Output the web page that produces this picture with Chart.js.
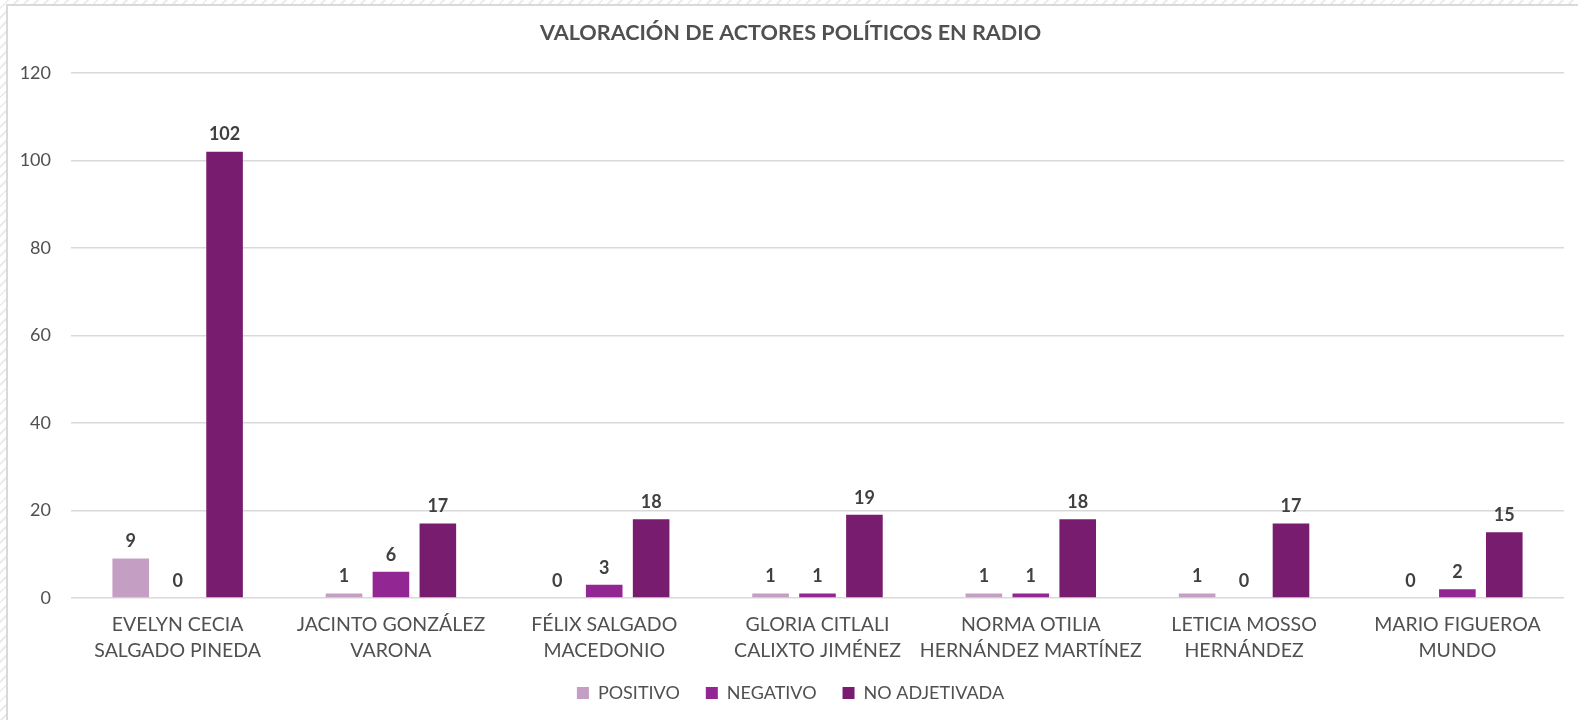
<!DOCTYPE html>
<html>
<head>
<meta charset="utf-8">
<script src="https://cdn.jsdelivr.net/npm/chart.js@4"></script>
<style>
  html, body { margin: 0; padding: 0; width: 1578px; height: 720px; overflow: hidden; }
  body { background: repeating-linear-gradient(135deg, #ffffff 0px, #ffffff 5px, #ececec 5px, #ececec 7px); position: relative; }
  #frame { position: absolute; left: 6px; top: 4px; right: 0; bottom: 0; background: #fff;
           border-left: 2px solid #d9d9d9; border-top: 2px solid #d9d9d9; }
  #c { position: absolute; left: 0; top: 0; }
</style>
</head>
<body>
<div id="frame"></div>
<canvas id="c" width="1578" height="720"></canvas>
<script>
const chartTitle = "VALORACIÓN DE ACTORES POLÍTICOS EN RADIO";
const categories = [
  ["EVELYN CECIA", "SALGADO PINEDA"],
  ["JACINTO GONZÁLEZ", "VARONA"],
  ["FÉLIX SALGADO", "MACEDONIO"],
  ["GLORIA CITLALI", "CALIXTO JIMÉNEZ"],
  ["NORMA OTILIA", "HERNÁNDEZ MARTÍNEZ"],
  ["LETICIA MOSSO", "HERNÁNDEZ"],
  ["MARIO FIGUEROA", "MUNDO"]
];
const seriesNames = ["POSITIVO", "NEGATIVO", "NO ADJETIVADA"];
const positivo = [9, 1, 0, 1, 1, 1, 0];
const negativo = [0, 6, 3, 1, 1, 0, 2];
const noAdjetivada = [102, 17, 18, 19, 18, 17, 15];
const seriesColors = ["#C49EC3", "#922692", "#781C70"];
const yTicks = [0, 20, 40, 60, 80, 100, 120];

const FONT = "Lato, 'Open Sans', sans-serif";
const TEXT = "#505050";

const valueLabels = {
  id: 'valueLabels',
  afterDatasetsDraw(chart) {
    const ctx = chart.ctx;
    ctx.save();
    ctx.font = "bold 18px " + FONT;
    ctx.fillStyle = "#404040";
    ctx.textAlign = "center";
    ctx.textBaseline = "bottom";
    chart.data.datasets.forEach((ds, di) => {
      const meta = chart.getDatasetMeta(di);
      meta.data.forEach((el, i) => {
        ctx.fillText(String(ds.data[i]), el.x, el.y - 8);
      });
    });
    ctx.restore();
  }
};

new Chart(document.getElementById('c'), {
  type: 'bar',
  data: {
    labels: categories,
    datasets: [
      { label: seriesNames[0], data: positivo, backgroundColor: seriesColors[0] },
      { label: seriesNames[1], data: negativo, backgroundColor: seriesColors[1] },
      { label: seriesNames[2], data: noAdjetivada, backgroundColor: seriesColors[2] }
    ]
  },
  options: {
    responsive: false,
    devicePixelRatio: 1,
    animation: false,
    layout: { padding: { left: 17, right: 14, top: 0, bottom: 8 } },
    datasets: { bar: { categoryPercentage: 0.66, barPercentage: 0.78 } },
    scales: {
      x: {
        grid: { display: false, drawTicks: false },
        border: { display: false },
        ticks: { color: TEXT, font: { family: FONT, size: 19.5, lineHeight: 1.33 }, padding: 14, maxRotation: 0, autoSkip: false },
        afterFit(s) { s.height = 60; }
      },
      y: {
        min: 0, max: 120,
        afterBuildTicks(s) { s.ticks = yTicks.map(v => ({ value: v })); },
        grid: { color: "#d9d9d9", lineWidth: 1.5, drawTicks: false },
        border: { display: false },
        ticks: { color: TEXT, font: { family: FONT, size: 18 }, padding: 20 },
        afterFit(s) { s.width = 54; }
      }
    },
    plugins: {
      title: {
        display: true, text: chartTitle, color: TEXT,
        font: { family: FONT, size: 21.6, weight: 'bold', lineHeight: 1.2 },
        padding: { top: 20, bottom: 27 }
      },
      legend: {
        position: 'bottom',
        labels: { color: TEXT, font: { family: FONT, size: 18 }, boxWidth: 12, boxHeight: 12, padding: 26 }
      },
      tooltip: { enabled: false }
    }
  },
  plugins: [valueLabels]
});
</script>
</body>
</html>
